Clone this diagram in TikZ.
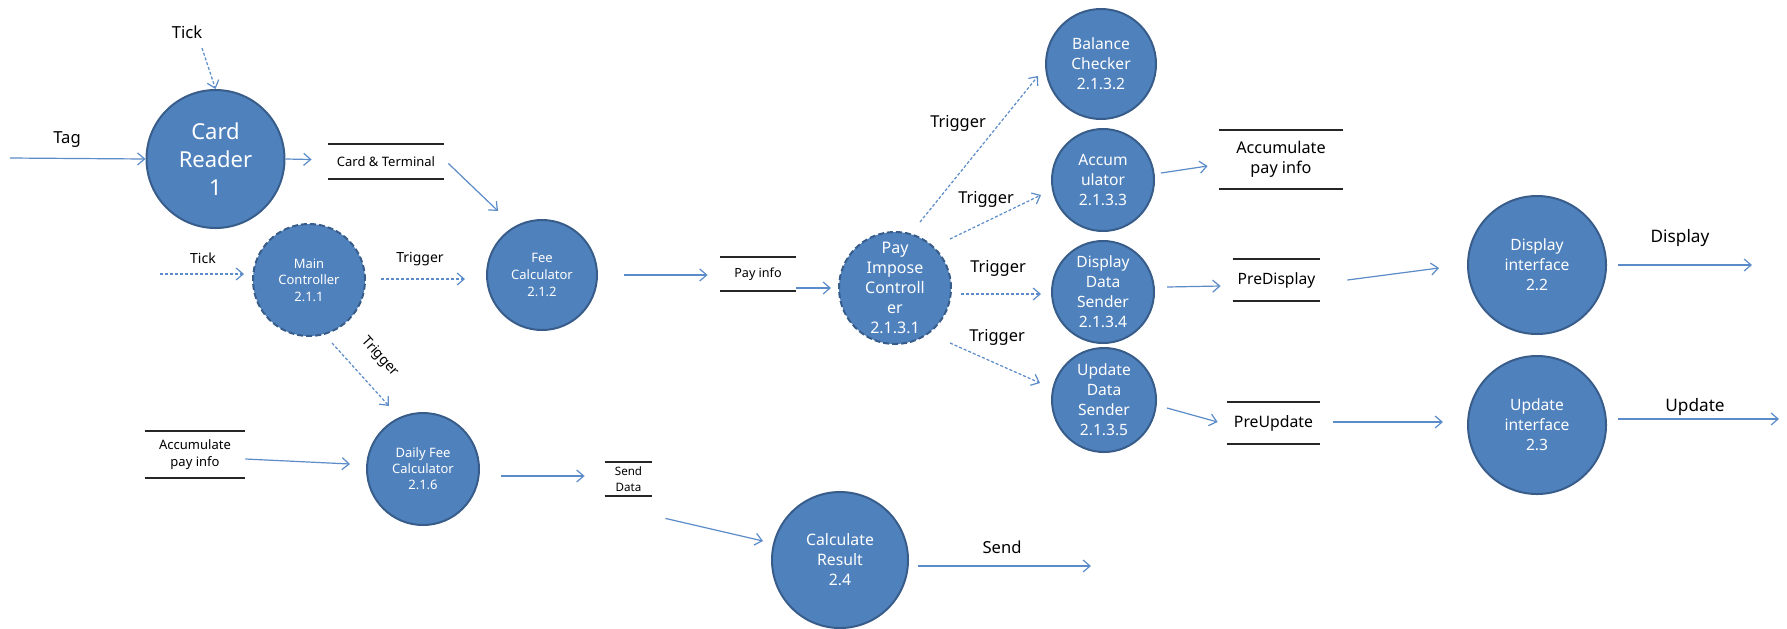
\documentclass[tikz,border=0pt]{standalone}
\usepackage{fontspec}
\setmainfont{Noto Sans}
\usetikzlibrary{arrows.meta,calc}
\definecolor{procfill}{HTML}{4F81BD}
\definecolor{procdraw}{HTML}{385D8A}
\definecolor{flowc}{HTML}{5B8BC8}
\newcommand{\setfs}[2]{\fontsize{#1}{#2}\selectfont}
\tikzset{
  proc/.style={circle, fill=procfill, draw=procdraw, line width=1pt, inner sep=0pt},
  ctrl/.style={proc, dash pattern=on 3pt off 1.5pt},
  ptext/.style={text=white, align=center, inner sep=0pt},
  lbl/.style={text=black, inner sep=0pt, align=center},
  flow/.style={draw=flowc, line width=0.6pt, -{Straight Barb[length=3.5pt,width=6pt]}},
  trig/.style={flow, dash pattern=on 1.5pt off 1pt},
  store/.style={inner sep=0pt, align=center, text=black},
  storeline/.style={draw=black!85, line width=1pt}
}
\begin{document}
\begin{tikzpicture}[x=0.5pt,y=-0.5pt]
\fill[white] (0,0) rectangle (1787,628);
\useasboundingbox (0,0) rectangle (1787,628);

% processes
\node[proc, minimum size=69pt] (cr) at (215.5,159) {};
\node[ctrl, minimum size=56pt] (mc) at (309,280) {};
\node[proc, minimum size=55pt] (fee) at (542,275) {};
\node[proc, minimum size=56pt] (df) at (423,469) {};
\node[proc, minimum size=68pt] (cres) at (840,560) {};
\node[ctrl, minimum size=56pt] (pic) at (895,288) {};
\node[proc, minimum size=55pt] (bc) at (1101,64) {};
\node[proc, minimum size=51pt] (acc) at (1103,180) {};
\node[proc, minimum size=51pt] (dds) at (1103,292) {};
\node[proc, minimum size=52pt] (uds) at (1104,400) {};
\node[proc, minimum size=69pt] (di) at (1537,265) {};
\node[proc, minimum size=69pt] (ui) at (1537,425) {};

\node[ptext, font=\setfs{11}{14}] (cr-t) at (cr) {Card\\Reader\\1};
\node[ptext, font=\setfs{6.5}{8.3}] (mc-t) at (mc) {Main\\Controller\\2.1.1};
\node[ptext, font=\setfs{6.5}{8.3}] (fee-t) at (fee) {Fee\\Calculator\\2.1.2};
\node[ptext, font=\setfs{6.5}{8}] (df-t) at (df) {Daily Fee\\Calculator\\2.1.6};
\node[ptext, font=\setfs{7.9}{10}] (cres-t) at (cres) {Calculate\\Result\\2.4};
\node[ptext, font=\setfs{8}{10}] (pic-t) at (pic) {Pay\\Impose\\Controll\\er\\2.1.3.1};
\node[ptext, font=\setfs{7.8}{10}] (bc-t) at (bc) {Balance\\Checker\\2.1.3.2};
\node[ptext, font=\setfs{7.8}{10}] (acc-t) at (acc) {Accum\\ulator\\2.1.3.3};
\node[ptext, font=\setfs{7.8}{10}] (dds-t) at (dds) {Display\\Data\\Sender\\2.1.3.4};
\node[ptext, font=\setfs{7.8}{10}] (uds-t) at (uds) {Update\\Data\\Sender\\2.1.3.5};
\node[ptext, font=\setfs{7.8}{10}] (di-t) at (di) {Display\\interface\\2.2};
\node[ptext, font=\setfs{7.8}{10}] (ui-t) at (ui) {Update\\interface\\2.3};

% data stores
\node[store, minimum width=58pt, minimum height=17.5pt, font=\setfs{6.5}{8}] (ct) at (386,161.5) {Card \& Terminal};
\node[store, minimum width=50pt, minimum height=23.5pt, font=\setfs{6.5}{8.3}] (api1) at (195,454.5) {Accumulate\\pay info};
\node[store, minimum width=23.5pt, minimum height=17pt, font=\setfs{5.8}{8}] (sd) at (628.5,479) {Send\\Data};
\node[store, minimum width=38pt, minimum height=17pt, font=\setfs{6.3}{8}] (pi) at (758,274) {Pay info};
\node[store, minimum width=62pt, minimum height=29.5pt, font=\setfs{8.1}{10}] (api2) at (1281,159.5) {Accumulate\\pay info};
\node[store, minimum width=43.5pt, minimum height=21pt, font=\setfs{7.8}{10}] (pd) at (1276.5,280) {PreDisplay};
\node[store, minimum width=46.5pt, minimum height=21pt, font=\setfs{7.9}{10}] (pu) at (1273.5,423) {PreUpdate};
\foreach \s in {ct,api1,sd,pi,api2,pd,pu}{
  \draw[storeline] (\s.north west) -- (\s.north east);
  \draw[storeline] (\s.south west) -- (\s.south east);
}

% free ends
\coordinate (tickA) at (202,48);
\coordinate (tagA) at (10,158);
\coordinate (tick2A) at (160,274);
\coordinate (sendEnd) at (1091,566);
\coordinate (dispEnd) at (1752,265);
\coordinate (updEnd) at (1779,419);

% labels
\node[lbl, font=\setfs{8.3}{10}] (tickT) at (187,32) {Tick};
\node[lbl, font=\setfs{8.3}{10}] (tagT) at (67,140) {Tag};
\node[lbl, font=\setfs{7}{9}] (tick2T) at (203,258) {Tick};
\node[lbl, font=\setfs{7}{9}] (trigMF) at (420,259) {Trigger};
\node[lbl, font=\setfs{7}{9}, rotate=-48] (trigMD) at (380,357) {Trigger};
\node[lbl, font=\setfs{8.2}{10}] (trigBC) at (958,123) {Trigger};
\node[lbl, font=\setfs{8.2}{10}] (trigAC) at (986,199) {Trigger};
\node[lbl, font=\setfs{8.2}{10}] (trigDD) at (998,268) {Trigger};
\node[lbl, font=\setfs{8.2}{10}] (trigUD) at (997,337) {Trigger};
\node[lbl, font=\setfs{8.3}{10}] (sendT) at (1002,547) {Send};
\node[lbl, font=\setfs{8.6}{10}] (dispT) at (1680,238) {Display};
\node[lbl, font=\setfs{8.6}{10}] (updT) at (1695,407) {Update};

% connectors
\draw[trig] (tickA) -- (cr.north);
\draw[flow] (tagA) -- (cr.west);
\draw[flow] (cr.east) -- ($(ct.west)+(-16,-2)$);
\draw[flow] ($(ct.east)+(4,2)$) -- ($(fee)+(-44,-64)$);
\draw[trig] (tick2A) -- ($(mc.west)+(-8,-6)$);
\draw[trig] ($(mc.east)+(15,-1)$) -- ($(fee.west)+(-21,4)$);
\draw[trig] ($(mc)+(23,63)$) -- ($(df)+(-34,-63)$);
\draw[flow] ($(api1.east)+(0,4.5)$) -- ($(df.west)+(-16,-5)$);
\draw[flow] ($(df.east)+(21,7)$) -- ($(sd.west)+(-20,-3)$);
\draw[flow] ($(sd.south east)+(13,22)$) -- ($(cres.west)+(-8,-19)$);
\draw[flow] ($(cres.east)+(9,6)$) -- (sendEnd);
\draw[flow] ($(fee.east)+(26,0)$) -- ($(pi.west)+(-12,1)$);
\draw[flow] ($(pi.east)+(0,14)$) -- ($(pic.west)+(-7,0)$);
\draw[trig] ($(pic)+(25,-66)$) -- ($(bc)+(-63,12)$);
\draw[trig] ($(pic)+(55,-49)$) -- ($(acc)+(-62,15)$);
\draw[trig] ($(pic)+(66,6)$) -- ($(dds)+(-62,2)$);
\draw[trig] ($(pic)+(55,55)$) -- ($(uds)+(-64,-17)$);
\draw[flow] ($(acc)+(58,-7)$) -- ($(api2.west)+(-11,6.5)$);
\draw[flow] ($(dds)+(64,-5)$) -- ($(pd.west)+(-12,6)$);
\draw[flow] ($(uds)+(63,8)$) -- ($(pu.west)+(-9,-1)$);
\draw[flow] ($(pd.east)+(27,0)$) -- ($(di.west)+(-28,3)$);
\draw[flow] ($(pu.east)+(13,-1)$) -- ($(ui.west)+(-24,-3)$);
\draw[flow] ($(di.east)+(11,0)$) -- (dispEnd);
\draw[flow] ($(ui.east)+(11,-6)$) -- (updEnd);
\end{tikzpicture}
\end{document}
